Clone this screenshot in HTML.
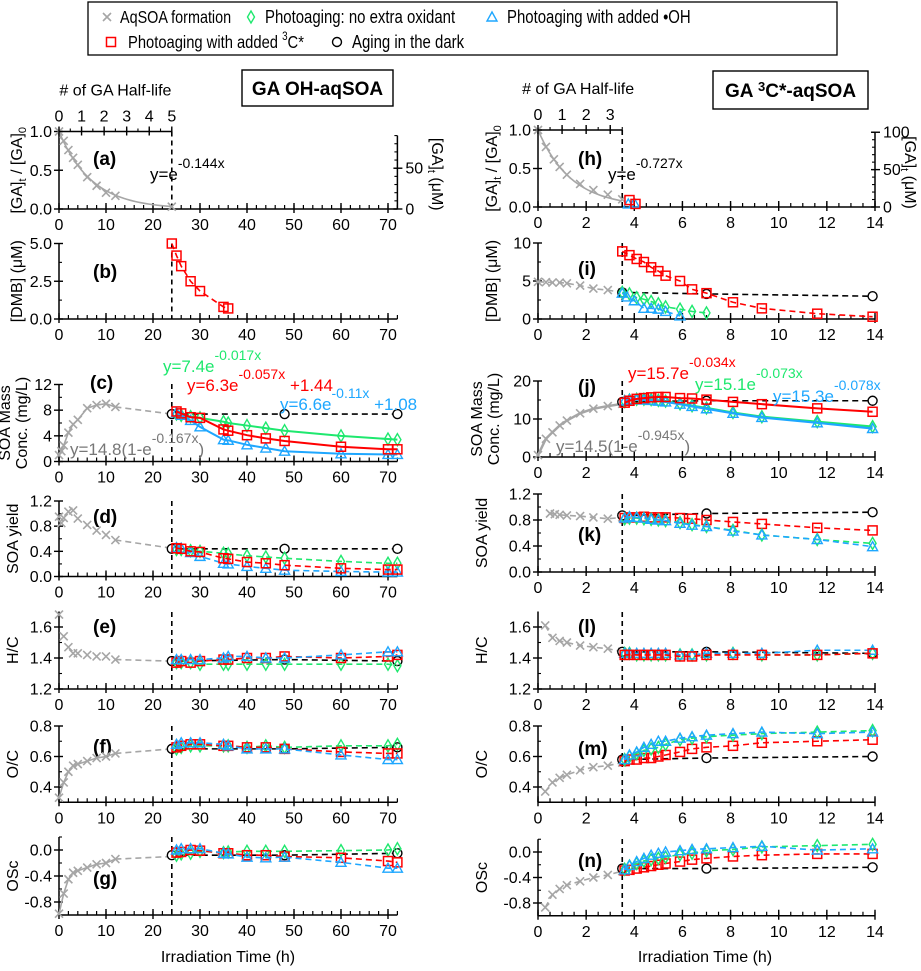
<!DOCTYPE html>
<html><head><meta charset="utf-8"><style>
body{margin:0;background:#fff}
svg{display:block;font-family:"Liberation Sans",sans-serif}
</style></head><body>
<svg id="fig" width="921" height="971" viewBox="0 0 921 971" xmlns="http://www.w3.org/2000/svg">
<g id="legend">
<rect x="88" y="2" width="749" height="53" fill="#fff" stroke="#000" stroke-width="1.3"/>
</g>
<g id="plots"></g>
</svg>
<script>
// ===== data (time, value) =====
const aForm=[[0,1.0],[1,0.88],[2,0.76],[3,0.66],[4,0.57],[6,0.41],[8,0.30],[10,0.21],[12,0.17],[24,0.03]];
const aFitK=[0.144];
const bRed=[[24,5.0],[25,4.2],[26,3.5],[28,2.5],[30,1.85],[35,0.8],[36,0.7]];
const cForm=[[0,1.0],[0.5,1.6],[1,2.5],[2,4.5],[3,5.8],[4,6.5],[6,8.3],[8,8.8],[10,9.0],[12,8.5],[24,7.4]];
const cGreen=[[25,7.4],[26,7.2],[28,7.0],[30,6.8],[35,6.2],[36,6.0],[40,5.6],[44,5.2],[48,4.8],[60,4.0],[70,3.5],[72,3.4]];
const cRed=[[25,7.8],[26,7.5],[28,6.9],[30,6.8],[35,5.0],[36,4.8],[40,4.1],[44,3.6],[48,3.2],[60,2.3],[70,1.9],[72,1.9]];
const cBlue=[[25,7.6],[26,7.2],[28,6.4],[30,5.4],[35,3.4],[36,3.3],[40,2.6],[44,2.1],[48,1.6],[60,1.2],[70,1.1],[72,1.1]];
const cDark=[[24,7.4],[48,7.4],[72,7.4]];
const dForm=[[0,0.95],[0.5,0.85],[1,0.93],[2,1.03],[3,1.05],[4,0.92],[6,0.82],[8,0.73],[10,0.66],[12,0.58],[24,0.45]];
const dGreen=[[25,0.43],[26,0.43],[28,0.41],[30,0.40],[35,0.37],[36,0.36],[40,0.33],[44,0.31],[48,0.29],[60,0.24],[70,0.21],[72,0.21]];
const dRed=[[25,0.45],[26,0.44],[28,0.40],[30,0.39],[35,0.29],[36,0.28],[40,0.23],[44,0.21],[48,0.18],[60,0.13],[70,0.11],[72,0.11]];
const dBlue=[[25,0.46],[26,0.45],[28,0.38],[30,0.32],[35,0.21],[36,0.20],[40,0.16],[44,0.13],[48,0.10],[60,0.08],[70,0.07],[72,0.07]];
const dDark=[[24,0.44],[48,0.44],[72,0.44]];
const eForm=[[0,1.68],[1,1.54],[2,1.47],[3,1.43],[4,1.43],[6,1.42],[8,1.41],[10,1.41],[12,1.39],[24,1.38]];
const eGreen=[[25,1.37],[26,1.37],[28,1.37],[30,1.36],[35,1.36],[36,1.36],[40,1.36],[44,1.36],[48,1.36],[60,1.36],[70,1.36],[72,1.35]];
const eRed=[[25,1.37],[26,1.38],[28,1.37],[30,1.38],[35,1.39],[36,1.39],[40,1.40],[44,1.40],[48,1.41],[60,1.40],[70,1.41],[72,1.42]];
const eBlue=[[25,1.39],[26,1.39],[28,1.39],[30,1.39],[35,1.40],[36,1.41],[40,1.41],[44,1.40],[48,1.40],[60,1.42],[70,1.44],[72,1.44]];
const eDark=[[24,1.38],[48,1.39],[72,1.38]];
const fForm=[[0,0.33],[1,0.43],[2,0.50],[3,0.54],[4,0.55],[6,0.57],[8,0.59],[10,0.60],[12,0.62],[24,0.65]];
const fGreen=[[25,0.65],[26,0.66],[28,0.67],[30,0.67],[35,0.67],[36,0.67],[40,0.66],[44,0.67],[48,0.66],[60,0.67],[70,0.67],[72,0.68]];
const fRed=[[25,0.66],[26,0.67],[28,0.68],[30,0.68],[35,0.67],[36,0.67],[40,0.66],[44,0.66],[48,0.65],[60,0.63],[70,0.62],[72,0.62]];
const fBlue=[[25,0.68],[26,0.69],[28,0.69],[30,0.69],[35,0.68],[36,0.67],[40,0.65],[44,0.65],[48,0.65],[60,0.61],[70,0.58],[72,0.58]];
const fDark=[[24,0.65],[48,0.65],[72,0.66]];
const gForm=[[0,-0.98],[1,-0.67],[2,-0.45],[3,-0.35],[4,-0.32],[6,-0.27],[8,-0.22],[10,-0.20],[12,-0.14],[24,-0.10]];
const gGreen=[[25,-0.08],[26,-0.06],[28,-0.05],[30,-0.02],[35,-0.04],[36,-0.03],[40,-0.02],[44,-0.02],[48,-0.02],[60,-0.01],[70,0.0],[72,0.02]];
const gRed=[[25,-0.04],[26,-0.03],[28,0.0],[30,-0.01],[35,-0.05],[36,-0.05],[40,-0.08],[44,-0.08],[48,-0.10],[60,-0.12],[70,-0.17],[72,-0.19]];
const gBlue=[[25,0.0],[26,0.02],[28,0.02],[30,0.02],[35,-0.05],[36,-0.06],[40,-0.11],[44,-0.12],[48,-0.11],[60,-0.19],[70,-0.28],[72,-0.28]];
const gDark=[[24,-0.08],[48,-0.08],[72,-0.05]];

const hForm=[[0,1.0],[0.33,0.78],[0.66,0.62],[0.9,0.52],[1.2,0.42],[1.75,0.30],[2.3,0.22],[2.9,0.16],[3.5,0.10]];
const hFitK=[0.727];
const hRed=[[3.8,0.09],[4.05,0.04]];
const hBlue=[[3.75,0.04],[4.0,0.05]];
const iForm=[[0,4.9],[0.33,4.85],[0.6,4.8],[0.9,4.8],[1.2,4.7],[1.75,4.4],[2.3,4.0],[2.9,3.8],[3.5,3.5]];
const iRed=[[3.5,8.9],[3.8,8.4],[4.1,7.9],[4.4,7.5],[4.7,6.8],[5.0,6.3],[5.3,5.7],[5.9,5.0],[6.4,3.9],[7.0,3.4],[8.1,2.2],[9.3,1.4],[11.6,0.7],[13.9,0.3]];
const iGreen=[[3.5,3.5],[3.8,3.3],[4.1,2.8],[4.4,2.6],[4.7,2.3],[5.0,2.0],[5.3,1.6],[5.9,1.3],[6.4,1.0],[7.0,0.8]];
const iBlue=[[3.5,3.4],[3.7,2.9],[4.0,2.4],[4.4,1.4],[4.7,1.4],[5.0,1.3],[5.3,1.0],[5.9,0.4]];
const iDark=[[3.5,3.5],[7.0,3.3],[13.9,3.0]];
const jForm=[[0,0.5],[0.33,4.8],[0.6,6.5],[0.9,8.3],[1.2,9.6],[1.75,11.5],[2.3,12.7],[2.9,13.4],[3.5,14.0]];
const jRed=[[3.6,14.3],[3.8,14.8],[4.1,15.3],[4.4,15.5],[4.7,15.7],[5.0,15.8],[5.3,15.8],[5.9,15.5],[6.4,15.4],[7.0,15.1],[8.1,14.5],[9.3,13.9],[11.6,12.8],[13.9,11.9]];
const jGreen=[[3.6,14.6],[3.8,15.0],[4.1,15.2],[4.4,15.2],[4.7,15.1],[5.0,14.9],[5.3,14.7],[5.9,14.0],[6.4,13.5],[7.0,12.9],[8.1,11.7],[9.3,10.6],[11.6,9.3],[13.9,8.0]];
const jBlue=[[3.6,14.8],[3.8,15.1],[4.1,15.1],[4.4,15.0],[4.7,14.9],[5.0,14.7],[5.3,14.5],[5.9,13.9],[6.4,13.3],[7.0,12.7],[8.1,11.5],[9.3,10.4],[11.6,9.0],[13.9,7.5]];
const jDark=[[3.5,14.5],[7.0,14.8],[13.9,14.8]];
const kForm=[[0.5,0.90],[0.7,0.89],[0.9,0.88],[1.2,0.87],[1.75,0.86],[2.3,0.84],[2.9,0.82],[3.5,0.84]];
const kRed=[[3.6,0.83],[3.8,0.84],[4.1,0.84],[4.4,0.85],[4.7,0.84],[5.0,0.84],[5.3,0.84],[5.9,0.83],[6.4,0.82],[7.0,0.80],[8.1,0.77],[9.3,0.74],[11.6,0.68],[13.9,0.64]];
const kGreen=[[3.6,0.82],[3.8,0.83],[4.1,0.83],[4.4,0.82],[4.7,0.81],[5.0,0.80],[5.3,0.79],[5.9,0.76],[6.4,0.73],[7.0,0.70],[8.1,0.64],[9.3,0.57],[11.6,0.50],[13.9,0.44]];
const kBlue=[[3.6,0.83],[3.8,0.85],[4.1,0.84],[4.4,0.83],[4.7,0.81],[5.0,0.80],[5.3,0.79],[5.9,0.75],[6.4,0.72],[7.0,0.70],[8.1,0.63],[9.3,0.57],[11.6,0.50],[13.9,0.39]];
const kDark=[[3.5,0.87],[7.0,0.90],[13.9,0.92]];
const lForm=[[0.3,1.61],[0.6,1.53],[0.9,1.51],[1.2,1.50],[1.75,1.48],[2.3,1.47],[2.9,1.46],[3.5,1.44]];
const lRed=[[3.6,1.42],[3.8,1.42],[4.1,1.42],[4.4,1.42],[4.7,1.42],[5.0,1.42],[5.3,1.42],[5.9,1.41],[6.4,1.41],[7.0,1.42],[8.1,1.42],[9.3,1.42],[11.6,1.42],[13.9,1.43]];
const lGreen=[[3.6,1.43],[3.8,1.43],[4.1,1.42],[4.4,1.42],[4.7,1.42],[5.0,1.42],[5.3,1.42],[5.9,1.42],[6.4,1.42],[7.0,1.42],[8.1,1.43],[9.3,1.42],[11.6,1.42],[13.9,1.43]];
const lBlue=[[3.6,1.43],[3.8,1.43],[4.1,1.43],[4.4,1.43],[4.7,1.43],[5.0,1.43],[5.3,1.43],[5.9,1.42],[6.4,1.42],[7.0,1.43],[8.1,1.43],[9.3,1.43],[11.6,1.45],[13.9,1.45]];
const lDark=[[3.5,1.44],[7.0,1.44],[13.9,1.43]];
const mForm=[[0.3,0.37],[0.6,0.43],[0.9,0.46],[1.2,0.48],[1.75,0.51],[2.3,0.53],[2.9,0.54],[3.5,0.56]];
const mRed=[[3.6,0.57],[3.8,0.58],[4.1,0.58],[4.4,0.59],[4.7,0.59],[5.0,0.60],[5.3,0.61],[5.9,0.63],[6.4,0.65],[7.0,0.66],[8.1,0.67],[9.3,0.69],[11.6,0.70],[13.9,0.71]];
const mGreen=[[3.6,0.58],[3.8,0.60],[4.1,0.62],[4.4,0.64],[4.7,0.65],[5.0,0.66],[5.3,0.68],[5.9,0.71],[6.4,0.72],[7.0,0.73],[8.1,0.74],[9.3,0.75],[11.6,0.76],[13.9,0.77]];
const mBlue=[[3.6,0.58],[3.8,0.61],[4.1,0.63],[4.4,0.66],[4.7,0.68],[5.0,0.70],[5.3,0.70],[5.9,0.72],[6.4,0.73],[7.0,0.74],[8.1,0.75],[9.3,0.76],[11.6,0.75],[13.9,0.76]];
const mDark=[[3.5,0.58],[7.0,0.59],[13.9,0.60]];
const nForm=[[0.3,-0.87],[0.6,-0.67],[0.9,-0.58],[1.2,-0.52],[1.75,-0.46],[2.3,-0.40],[2.9,-0.36],[3.5,-0.30]];
const nRed=[[3.6,-0.29],[3.8,-0.28],[4.1,-0.26],[4.4,-0.24],[4.7,-0.22],[5.0,-0.20],[5.3,-0.18],[5.9,-0.15],[6.4,-0.12],[7.0,-0.10],[8.1,-0.07],[9.3,-0.05],[11.6,-0.03],[13.9,-0.03]];
const nGreen=[[3.6,-0.27],[3.8,-0.22],[4.1,-0.18],[4.4,-0.14],[4.7,-0.12],[5.0,-0.10],[5.3,-0.08],[5.9,-0.04],[6.4,-0.02],[7.0,0.02],[8.1,0.04],[9.3,0.08],[11.6,0.10],[13.9,0.12]];
const nBlue=[[3.6,-0.28],[3.8,-0.21],[4.1,-0.15],[4.4,-0.10],[4.7,-0.05],[5.0,-0.02],[5.3,0.0],[5.9,0.02],[6.4,0.04],[7.0,0.05],[8.1,0.07],[9.3,0.09],[11.6,0.03],[13.9,0.05]];
const nDark=[[3.5,-0.26],[7.0,-0.26],[13.9,-0.24]];

const leftXTicks=[0,10,20,30,40,50,60,70];
const rightXTicks=[0,2,4,6,8,10,12,14];

const NS='http://www.w3.org/2000/svg';
const root=document.getElementById('plots');
const COL={gray:'#a6a6a6',green:'#1ee86e',blue:'#1ea7ff',red:'#ff0000',black:'#000'};
function el(tag,attrs,parent){const e=document.createElementNS(NS,tag);for(const k in attrs)e.setAttribute(k,attrs[k]);(parent||root).appendChild(e);return e;}
function txt(s,x,y,attrs,parent){const t=el('text',Object.assign({x:x,y:y,'font-size':15},attrs||{}),parent);t.textContent=s;return t;}

const LEFT={x0:59,x1:388,t0:0,t1:70,tmax:72,minor:2,ticks:leftXTicks,vline:24};
const RIGHT={x0:538,x1:875,t0:0,t1:14,tmax:14,minor:0.5,ticks:rightXTicks,vline:3.5};

function marker(g,type,x,y,c){
  let m;
  if(type==='x'){m=el('path',{d:`M${x-4},${y-4}L${x+4},${y+4}M${x-4},${y+4}L${x+4},${y-4}`,stroke:c,'stroke-width':1.6,fill:'none'},g);}
  else if(type==='d'){m=el('path',{d:`M${x},${y-6}L${x+3.5},${y}L${x},${y+6}L${x-3.5},${y}Z`,stroke:c,'stroke-width':1.4,fill:'none'},g);}
  else if(type==='t'){m=el('path',{d:`M${x},${y-5}L${x+5},${y+4}L${x-5},${y+4}Z`,stroke:c,'stroke-width':1.4,fill:'none'},g);}
  else if(type==='s'){m=el('rect',{x:x-4.5,y:y-4.5,width:9,height:9,stroke:c,'stroke-width':1.5,fill:'none'},g);}
  else {m=el('circle',{cx:x,cy:y,r:4.5,stroke:c,'stroke-width':1.4,fill:'#fff'},g);}
  
  
  return m;
}

function panel(cfg){
  const X=cfg.col; const g=el('g',{});
  
  
  const sx=t=>X.x0+(t-X.t0)/(X.t1-X.t0)*(X.x1-X.x0);
  const sy=v=>cfg.yb-(v-cfg.ymin)/(cfg.ymax-cfg.ymin)*(cfg.yb-cfg.yt);
  const yBot=sy(cfg.axMin), yTop=sy(cfg.axMax), xEnd=sx(X.tmax);
  el('line',{x1:X.x0,y1:yBot,x2:xEnd,y2:yBot,stroke:'#000','stroke-width':1.5},g);
  el('line',{x1:X.x0,y1:yBot,x2:X.x0,y2:yTop,stroke:'#000','stroke-width':1.5},g);
  for(let t=X.t0;t<=X.tmax+1e-9;t+=X.minor){const x=sx(t);el('line',{x1:x,y1:yBot,x2:x,y2:yBot-4,stroke:'#000','stroke-width':1.2},g);}
  X.ticks.forEach(t=>{const x=sx(t);el('line',{x1:x,y1:yBot-6,x2:x,y2:yBot+4,stroke:'#000','stroke-width':1.4},g);
    const l=txt(String(t),x,yBot+21,{'text-anchor':'middle','font-size':16},g);});
  cfg.yticks.forEach(v=>{const y=sy(v);el('line',{x1:X.x0-5,y1:y,x2:X.x0+4,y2:y,stroke:'#000','stroke-width':1.4},g);
    const l=txt(cfg.yfmt(v),X.x0-7,y+5.5,{'text-anchor':'end','font-size':16},g);});
  (cfg.yminor||[]).forEach(v=>{const y=sy(v);el('line',{x1:X.x0,y1:y,x2:X.x0+3,y2:y,stroke:'#000','stroke-width':1.1},g);});
  el('line',{x1:sx(X.vline),y1:cfg.vTop||yTop,x2:sx(X.vline),y2:yBot,stroke:'#000','stroke-width':1.6,'stroke-dasharray':'5,4'},g);
  const L=txt('('+cfg.letter+')',cfg.lx,cfg.ly,{'font-size':19,'font-weight':'bold'},g);
  
  cfg.ytitle.forEach((s,i)=>{const tx=cfg.ytx+i*17, ty=(yTop+yBot)/2;
    const t=txt('',tx,ty,{'text-anchor':'middle','font-size':16,transform:`rotate(-90 ${tx} ${ty})`},g);t.innerHTML=s;
    });
  cfg.series.forEach(s=>{
    const pts=s.data.map(p=>[sx(p[0]),sy(p[1])]);
    if(s.line){const pl=el('polyline',{points:(s.lineData?s.lineData.map(p=>[sx(p[0]),sy(p[1])]):pts).map(p=>p.join(',')).join(' '),fill:'none',stroke:s.c,'stroke-width':s.w||1.6,'stroke-dasharray':s.line==='dash'?'6,4':'none'},g);
      }
    if(s.m) pts.forEach(p=>marker(g,s.m,p[0],p[1],s.c));
  });
  return {g,sx,sy,yBot,yTop,xEnd};
}
function fmt1(v){return v.toFixed(1);} function fmt0(v){return String(v);}
function expCurve(k,a,b,t0,t1,n){const r=[];for(let i=0;i<=n;i++){const t=t0+(t1-t0)*i/n;r.push([t,a*Math.exp(-k*t)+b]);}return r;}

const pa=panel({col:LEFT,letter:'a',yb:209,yt:131.5,ymin:0,ymax:1,axMin:0,axMax:1,yticks:[0,0.5,1],yminor:[],yfmt:fmt1,lx:93,ly:165,ytx:22,vTop:131.5,
  ytitle:['[GA]<tspan font-size="11" dy="4">t</tspan><tspan dy="-4"> / [GA]</tspan><tspan font-size="11" dy="4">0</tspan>'],
  series:[{name:'aqsoa-fit',data:[],lineData:expCurve(aFitK[0],1,0,0,24,40),c:COL.gray,line:'solid'},{name:'aqsoa-formation',data:aForm,c:COL.gray,m:'x'}]});
const pb=panel({col:LEFT,letter:'b',yb:319,yt:243.5,ymin:0,ymax:5,axMin:0,axMax:5,yticks:[0,2.5,5],yminor:[1.25,3.75],yfmt:fmt1,lx:93,ly:278,ytx:22,
  ytitle:['[DMB] (μM)'],series:[{name:'3c-photoaging',data:bRed,c:COL.red,m:'s',line:'dash'}]});
const pc=panel({col:LEFT,letter:'c',yb:461.5,yt:384.5,ymin:0,ymax:12,axMin:0,axMax:12,yticks:[0,4,8,12],yminor:[2,6,10],yfmt:fmt0,lx:90,ly:389,ytx:10,vTop:384,
  ytitle:['SOA Mass','Conc. (mg/L)'],series:[
   {name:'aqsoa-formation-solid',data:[],lineData:cForm.slice(0,10),c:COL.gray,line:'solid'},
   {name:'aqsoa-formation-dash',data:[],lineData:cForm.slice(9),c:COL.gray,line:'dash'},
   {name:'aqsoa-formation',data:cForm.slice(0,10),c:COL.gray,m:'x'},
   {name:'dark',data:cDark,c:COL.black,m:'o',line:'dash'},
   {name:'no-oxidant',data:cGreen,c:COL.green,m:'d',line:'solid',w:2},
   {name:'oh',data:cBlue,c:COL.blue,m:'t',line:'solid',w:2},
   {name:'3c',data:cRed,c:COL.red,m:'s',line:'solid',w:2}]});
const pd=panel({col:LEFT,letter:'d',yb:576.5,yt:501,ymin:0,ymax:1.2,axMin:0,axMax:1.2,yticks:[0,0.4,0.8,1.2],yminor:[0.2,0.6,1.0],yfmt:fmt1,lx:93,ly:523,ytx:18,vTop:501,
  ytitle:['SOA yield'],series:[
   {name:'aqsoa-formation-dash',data:[],lineData:dForm.slice(9),c:COL.gray,line:'dash'},
   {name:'aqsoa-formation',data:dForm.slice(0,10),c:COL.gray,m:'x'},
   {name:'dark',data:dDark,c:COL.black,m:'o',line:'dash'},
   {name:'no-oxidant',data:dGreen,c:COL.green,m:'d',line:'dash'},
   {name:'oh',data:dBlue,c:COL.blue,m:'t',line:'dash'},
   {name:'3c',data:dRed,c:COL.red,m:'s',line:'dash'}]});
const pe=panel({col:LEFT,letter:'e',yb:689,yt:627,ymin:1.2,ymax:1.6,axMin:1.2,axMax:1.7,yticks:[1.2,1.4,1.6],yminor:[1.3,1.5],yfmt:fmt1,lx:93,ly:633,ytx:18,vTop:612,
  ytitle:['H/C'],series:[
   {name:'aqsoa-formation-dash',data:[],lineData:eForm.slice(8),c:COL.gray,line:'dash'},
   {name:'aqsoa-formation',data:eForm.slice(0,9),c:COL.gray,m:'x'},
   {name:'dark',data:eDark,c:COL.black,m:'o',line:'dash'},
   {name:'no-oxidant',data:eGreen,c:COL.green,m:'d',line:'dash'},
   {name:'3c',data:eRed,c:COL.red,m:'s',line:'dash'},
   {name:'oh',data:eBlue,c:COL.blue,m:'t',line:'dash'}]});
const pf=panel({col:LEFT,letter:'f',yb:787,yt:726,ymin:0.4,ymax:0.8,axMin:0.3,axMax:0.8,yticks:[0.4,0.6,0.8],yminor:[0.3,0.5,0.7],yfmt:fmt1,lx:93,ly:753,ytx:18,vTop:726,
  ytitle:['O/C'],series:[
   {name:'aqsoa-formation-dash',data:[],lineData:fForm.slice(8),c:COL.gray,line:'dash'},
   {name:'aqsoa-formation-solid',data:[],lineData:fForm.slice(0,9),c:COL.gray,line:'solid'},
   {name:'aqsoa-formation',data:fForm.slice(0,9),c:COL.gray,m:'x'},
   {name:'dark',data:fDark,c:COL.black,m:'o',line:'dash'},
   {name:'no-oxidant',data:fGreen,c:COL.green,m:'d',line:'dash'},
   {name:'3c',data:fRed,c:COL.red,m:'s',line:'dash'},
   {name:'oh',data:fBlue,c:COL.blue,m:'t',line:'dash'}]});
const pg=panel({col:LEFT,letter:'g',yb:902,yt:850,ymin:-0.8,ymax:0,axMin:-1.0,axMax:0.2,yticks:[-0.8,-0.4,0],yminor:[-1.0,-0.6,-0.2,0.2],yfmt:fmt1,lx:93,ly:885,ytx:18,vTop:837,
  ytitle:['OSc'],series:[
   {name:'aqsoa-formation-dash',data:[],lineData:gForm.slice(8),c:COL.gray,line:'dash'},
   {name:'aqsoa-formation-solid',data:[],lineData:gForm.slice(0,9),c:COL.gray,line:'solid'},
   {name:'aqsoa-formation',data:gForm.slice(0,9),c:COL.gray,m:'x'},
   {name:'dark',data:gDark,c:COL.black,m:'o',line:'dash'},
   {name:'no-oxidant',data:gGreen,c:COL.green,m:'d',line:'dash'},
   {name:'3c',data:gRed,c:COL.red,m:'s',line:'dash'},
   {name:'oh',data:gBlue,c:COL.blue,m:'t',line:'dash'}]});

const ph=panel({col:RIGHT,letter:'h',yb:207,yt:130,ymin:0,ymax:1,axMin:0,axMax:1,yticks:[0,0.5,1],yminor:[],yfmt:fmt1,lx:578,ly:165,ytx:497,vTop:130,
  ytitle:['[GA]<tspan font-size="11" dy="4">t</tspan><tspan dy="-4"> / [GA]</tspan><tspan font-size="11" dy="4">0</tspan>'],
  series:[{name:'aqsoa-fit',data:[],lineData:expCurve(hFitK[0],1,0,0,3.5,30),c:COL.gray,line:'solid'},{name:'aqsoa-formation',data:hForm,c:COL.gray,m:'x'},
   {name:'oh',data:hBlue,c:COL.blue,m:'t'},{name:'3c',data:hRed,c:COL.red,m:'s'}]});
const pi=panel({col:RIGHT,letter:'i',yb:319,yt:243,ymin:0,ymax:10,axMin:0,axMax:10,yticks:[0,5,10],yminor:[2.5,7.5],yfmt:fmt0,lx:578,ly:275,ytx:497,vTop:243,
  ytitle:['[DMB] (μM)'],series:[
   {name:'aqsoa-formation',data:iForm,c:COL.gray,m:'x',line:'dash'},
   {name:'dark',data:iDark,c:COL.black,m:'o',line:'dash'},
   {name:'3c',data:iRed,c:COL.red,m:'s',line:'dash'},
   {name:'no-oxidant',data:iGreen,c:COL.green,m:'d',line:'dash'},
   {name:'oh',data:iBlue,c:COL.blue,m:'t',line:'dash'}]});
const pj=panel({col:RIGHT,letter:'j',yb:457,yt:381,ymin:0,ymax:20,axMin:0,axMax:20,yticks:[0,10,20],yminor:[5,15],yfmt:fmt0,lx:578,ly:393,ytx:482,vTop:381,
  ytitle:['SOA Mass','Conc. (mg/L)'],series:[
   {name:'aqsoa-formation',data:jForm,c:COL.gray,m:'x',line:'solid',w:2.5},
   {name:'dark',data:jDark,c:COL.black,m:'o',line:'dash'},
   {name:'no-oxidant',data:jGreen,c:COL.green,m:'d',line:'solid',w:2.2},
   {name:'oh',data:jBlue,c:COL.blue,m:'t',line:'solid',w:2.2},
   {name:'3c',data:jRed,c:COL.red,m:'s',line:'solid',w:2}]});
const pk=panel({col:RIGHT,letter:'k',yb:572,yt:494,ymin:0,ymax:1.2,axMin:0,axMax:1.2,yticks:[0,0.4,0.8,1.2],yminor:[0.2,0.6,1.0],yfmt:fmt1,lx:578,ly:541,ytx:487,vTop:494,
  ytitle:['SOA yield'],series:[
   {name:'aqsoa-formation',data:kForm,c:COL.gray,m:'x',line:'dash'},
   {name:'dark',data:kDark,c:COL.black,m:'o',line:'dash'},
   {name:'3c',data:kRed,c:COL.red,m:'s',line:'dash'},
   {name:'no-oxidant',data:kGreen,c:COL.green,m:'d',line:'dash'},
   {name:'oh',data:kBlue,c:COL.blue,m:'t',line:'dash'}]});
const pl=panel({col:RIGHT,letter:'l',yb:689,yt:627,ymin:1.2,ymax:1.6,axMin:1.2,axMax:1.7,yticks:[1.2,1.4,1.6],yminor:[1.3,1.5],yfmt:fmt1,lx:578,ly:633,ytx:487,vTop:612,
  ytitle:['H/C'],series:[
   {name:'aqsoa-formation',data:lForm,c:COL.gray,m:'x',line:'dash'},
   {name:'dark',data:lDark,c:COL.black,m:'o',line:'dash'},
   {name:'no-oxidant',data:lGreen,c:COL.green,m:'d',line:'dash'},
   {name:'oh',data:lBlue,c:COL.blue,m:'t',line:'dash'},
   {name:'3c',data:lRed,c:COL.red,m:'s',line:'dash'}]});
const pm=panel({col:RIGHT,letter:'m',yb:787,yt:726,ymin:0.4,ymax:0.8,axMin:0.3,axMax:0.8,yticks:[0.4,0.6,0.8],yminor:[0.3,0.5,0.7],yfmt:fmt1,lx:578,ly:755,ytx:487,vTop:726,
  ytitle:['O/C'],series:[
   {name:'aqsoa-formation',data:mForm,c:COL.gray,m:'x',line:'dash'},
   {name:'dark',data:mDark,c:COL.black,m:'o',line:'dash'},
   {name:'3c',data:mRed,c:COL.red,m:'s',line:'dash'},
   {name:'no-oxidant',data:mGreen,c:COL.green,m:'d',line:'dash'},
   {name:'oh',data:mBlue,c:COL.blue,m:'t',line:'dash'}]});
const pn=panel({col:RIGHT,letter:'n',yb:903,yt:852,ymin:-0.8,ymax:0,axMin:-1.0,axMax:0.2,yticks:[-0.8,-0.4,0],yminor:[-1.0,-0.6,-0.2,0.2],yfmt:fmt1,lx:578,ly:867,ytx:487,vTop:839,
  ytitle:['OSc'],series:[
   {name:'aqsoa-formation',data:nForm,c:COL.gray,m:'x',line:'dash'},
   {name:'dark',data:nDark,c:COL.black,m:'o',line:'dash'},
   {name:'3c',data:nRed,c:COL.red,m:'s',line:'dash'},
   {name:'no-oxidant',data:nGreen,c:COL.green,m:'d',line:'dash'},
   {name:'oh',data:nBlue,c:COL.blue,m:'t',line:'dash'}]});

function gaAxis(p,maxV,ticks,lblX,topV){
  const g=el('g',{});
  const x=p.xEnd, yb=p.yBot, yt=p.yTop, sc=v=>yb-v/maxV*(yb-yt);
  el('line',{x1:x,y1:yb,x2:x,y2:sc(topV),stroke:'#000','stroke-width':1.5},g);
  for(let v=0;v<=topV+1e-9;v+=ticks/5){el('line',{x1:x,y1:sc(v),x2:x-3,y2:sc(v),stroke:'#000','stroke-width':1.1},g);}
  for(let v=0;v<=topV+1e-9;v+=ticks){el('line',{x1:x-4,y1:sc(v),x2:x+5,y2:sc(v),stroke:'#000','stroke-width':1.4},g);
    const l=txt(String(v),x+8,sc(v)+5.5,{'font-size':16},g);}
  const cy=(yb+yt)/2+4;
  const t=txt('',lblX,cy,{'text-anchor':'middle','font-size':16,transform:`rotate(90 ${lblX} ${cy})`},g);
  t.innerHTML='[GA]<tspan font-size="11" dy="4">t</tspan><tspan dy="-4"> (μM)</tspan>';
  
}
gaAxis(pa,95,50,432,90);
gaAxis(ph,103,50,905,100);
function topAxis(p,col,nmax,ticks,tEnd){
  const g=el('g',{});
  const x0=col.x0, x1=p.sx(tEnd), y=p.yTop, sc=n=>x0+n/nmax*(x1-x0);
  el('line',{x1:x0,y1:y,x2:x1,y2:y,stroke:'#000','stroke-width':1.5},g);
  for(let n=0;n<=nmax+1e-9;n+=0.5){el('line',{x1:sc(n),y1:y,x2:sc(n),y2:y-3,stroke:'#000','stroke-width':1.1},g);}
  ticks.forEach(n=>{el('line',{x1:sc(n),y1:y-5,x2:sc(n),y2:y+4,stroke:'#000','stroke-width':1.4},g);
    const l=txt(String(n),sc(n),y-10,{'text-anchor':'middle','font-size':16},g);});
  const t=txt('# of GA Half-life',(x0+sc(ticks[ticks.length-1]))/2+(nmax<4?4:0),y-36,{'text-anchor':'middle','font-size':16},g);
  
}
topAxis(pa,LEFT,5,[0,1,2,3,4,5],24);
topAxis(ph,RIGHT,3.5,[0,1,2,3],3.5);

function eq(parts,color,x,y){const t=el('text',{x:x,y:y,'font-size':17,fill:color});
  
  t.innerHTML=parts;return t;}
eq('y=e<tspan dy="-12" font-size="14">-0.144x</tspan>','#000',150,180);
eq('y=e<tspan dy="-12" font-size="14">-0.727x</tspan>','#000',608,180);
eq('y=7.4e<tspan dy="-12" font-size="14">-0.017x</tspan>',COL.green,163,372);
eq('y=6.3e<tspan dy="-12" font-size="14">-0.057x</tspan><tspan dy="12"> +1.44</tspan>',COL.red,187,391);
eq('y=6.6e<tspan dy="-12" font-size="14">-0.11x</tspan><tspan dy="12"> +1.08</tspan>',COL.blue,280,410);
eq('y=14.8(1-e<tspan dy="-12" font-size="14">-0.167x</tspan><tspan dy="12">)</tspan>','#777',70,455);
eq('y=15.7e<tspan dy="-12" font-size="14">-0.034x</tspan>',COL.red,628,379);
eq('y=15.1e<tspan dy="-12" font-size="14">-0.073x</tspan>',COL.green,695,390);
eq('y=15.3e<tspan dy="-12" font-size="14">-0.078x</tspan>',COL.blue,773,402);
eq('y=14.5(1-e<tspan dy="-12" font-size="14">-0.945x</tspan><tspan dy="12">)</tspan>','#777',556,452);

function titleBox(label,x,y,w,h,html){const g=el('g',{});
  el('rect',{x:x,y:y,width:w,height:h,fill:'#fff',stroke:'#000','stroke-width':1.4},g);
  const t=el('text',{x:x+w/2,y:y+h/2+7,'text-anchor':'middle','font-size':19,'font-weight':'bold'},g);t.innerHTML=html;}
titleBox('title-oh-aqsoa',242,70,151,36,'GA OH-aqSOA');
titleBox('title-3c-aqsoa',713,71,155,38,'GA <tspan font-size="13" dy="-6">3</tspan><tspan dy="6">C*-aqSOA</tspan>');
[['x-axis-title-left',228],['x-axis-title-right',705]].forEach(a=>{const t=txt('Irradiation Time (h)',a[1],962,{'text-anchor':'middle','font-size':16});
  });

const lg=document.getElementById('legend');
function legItem(name,m,c,mx,my,label,tx,sc){const g=el('g',{},lg);
  
  marker(g,m,mx,my,c);const t=el('text',{x:0,y:0,'font-size':18,transform:`translate(${tx},${my+6}) scale(${sc},1)`},g);t.innerHTML=label;}
legItem('legend-aqsoa-formation','x',COL.gray,107,17,'AqSOA formation',120,0.80);
legItem('legend-no-oxidant','d',COL.green,251,17,'Photoaging: no extra oxidant',265,0.83);
legItem('legend-oh','t',COL.blue,492,17,'Photoaging with added •OH',507,0.83);
legItem('legend-3c','s',COL.red,111,42,'Photoaging with added <tspan font-size="12" dy="-8">3</tspan><tspan dy="8">C*</tspan>',128,0.82);
legItem('legend-dark','o',COL.black,337,42,'Aging in the dark',352,0.83);
</script>
</body></html>
